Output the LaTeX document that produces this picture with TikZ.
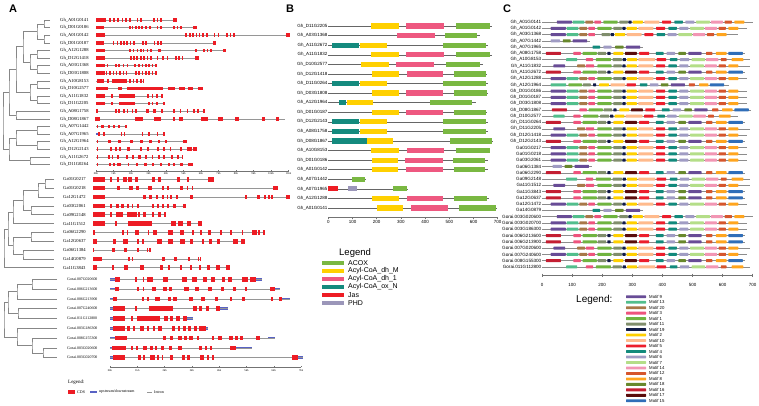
\documentclass[tikz,border=0pt]{standalone}
\usepackage{fontspec}
\setmainfont{Liberation Serif}
\setsansfont{Liberation Sans}
\usepackage{xcolor}
\usepackage{tikz}
\usetikzlibrary{calc}
\definecolor{cdsred}{RGB}{237,28,36}
\definecolor{utrblue}{RGB}{88,98,196}
\definecolor{introngray}{RGB}{150,150,150}
\definecolor{treegray}{RGB}{135,135,135}
\definecolor{acox}{RGB}{122,184,66}
\definecolor{dhM}{RGB}{255,208,0}
\definecolor{dh1}{RGB}{238,88,128}
\definecolor{oxN}{RGB}{20,138,126}
\definecolor{jas}{RGB}{238,28,36}
\definecolor{phd}{RGB}{155,150,185}
\definecolor{m9}{RGB}{104,76,150}
\definecolor{m13}{RGB}{82,190,140}
\definecolor{m20}{RGB}{168,120,72}
\definecolor{m3}{RGB}{238,84,125}
\definecolor{m1}{RGB}{112,180,64}
\definecolor{m11}{RGB}{128,142,108}
\definecolor{m19}{RGB}{16,26,72}
\definecolor{m2}{RGB}{255,208,0}
\definecolor{m10}{RGB}{255,186,140}
\definecolor{m5}{RGB}{236,30,44}
\definecolor{m4}{RGB}{18,138,124}
\definecolor{m6}{RGB}{160,156,196}
\definecolor{m7}{RGB}{180,222,136}
\definecolor{m14}{RGB}{242,150,180}
\definecolor{m12}{RGB}{214,86,44}
\definecolor{m8}{RGB}{255,165,30}
\definecolor{m18}{RGB}{104,136,44}
\definecolor{m16}{RGB}{196,30,50}
\definecolor{m17}{RGB}{90,12,12}
\definecolor{m15}{RGB}{48,110,184}
\tikzset{
  panel/.style={font=\fontsize{11}{11}\selectfont\sffamily\bfseries,inner sep=0},
  branch/.style={draw=treegray,line width=0.5pt},
  intron/.style={draw=introngray,line width=0.45pt},
  cds/.style={fill=cdsred},
  utr/.style={fill=utrblue},
  alab/.style={anchor=west,inner sep=0,font=\labfont},
  kblab/.style={inner sep=0,font=\fontsize{2.8}{3}\selectfont},
  scalebar/.style={draw=black!55,line width=0.7pt},
  bline/.style={draw=black!60,line width=0.45pt},
  cline/.style={draw=black!45,line width=0.45pt},
  blabel/.style={anchor=east,inner sep=0,xshift=-0.8pt,font=\fontsize{4.5}{5}\selectfont\sffamily},
  clabel/.style={anchor=east,inner sep=0,xshift=-0.5pt,font=\fontsize{4.6}{5}\selectfont\sffamily},
  ticklab/.style={inner sep=0,font=\fontsize{4.5}{5}\selectfont\sffamily},
  leglab/.style={anchor=west,inner sep=0,font=\fontsize{7}{8}\selectfont\sffamily},
  motlab/.style={anchor=west,inner sep=0,font=\fontsize{4.3}{5}\selectfont\sffamily}
}
\newcommand{\labfont}{\fontsize{4.6}{5}\selectfont}
\newcommand{\labx}{60}
\newcommand{\exh}{1.8}
\newcommand{\cladejoin}[4]{%
  \path let \p1=(#3),\p2=(#4) in (#2pt,{0.5*(\y1+\y2)}) coordinate (#1);
  \draw[branch] (#3) -| (#1) |- (#4);}
\newcommand{\generow}[5]{%
  \node[alab] at (\labx,#1) {#2};
  \draw[intron] (#3,#1) -- (#4,#1);
  \foreach \xa/\xb in {#5} {\fill[cds] (\xa,#1-\exh) rectangle (\xb,#1+\exh);}}
\newcommand{\utr}[3]{\fill[utr] (#2,#1-1.3) rectangle (#3,#1+1.3);}
\newcommand{\brow}[4]{%
  \pgfmathsetmacro\yy{26+9.58*#1}
  \draw[bline] (0,\yy) -- (#3,\yy);
  \node[blabel] at (0,\yy) {#2};
  \foreach \dc/\s/\e in {#4} {\fill[fill=\dc] (\s,\yy-2.6) rectangle (\e,\yy+2.6);}}
\def\patA{9/29/79,13/82/121,20/124/150,3/154/176,1/184/231,11/237/265,19/267/278,2/281/315,10/320/370,5/379/409,4/420/448,6/456/486,7/492/538,14/541/581,12/587/611,8/619/652}
\def\patB{9/29/79,13/82/121,20/124/150,3/154/176,11/198/226,19/228/239,2/242/276,10/281/331,5/340/370,4/381/409,6/417/447,7/453/499,14/502/542,12/548/572,8/580/613}
\def\patC{9/38/77,20/117/143,3/146/173,1/184/231,11/237/265,19/267/278,2/281/315,10/320/370,5/379/409,4/420/448,6/456/486,7/492/538,14/541/581,12/587/611,8/619/652}
\def\patD{16/13/63,3/104/129,1/135/182,11/185/213,19/217/228,2/237/270,17/276/315,5/323/356,4/378/404,6/414/442,18/453/478,9/486/530,12/545/566,8/578/613,15/619/667}
\def\patE{13/80/117,3/146/170,1/179/229,11/235/265,19/268/279,2/283/316,10/320/376,5/381/412,4/425/450,6/458/489,7/497/542,14/545/586,12/594/613,8/630/669}
\def\patF{13/29/80,1/88/133,11/136/162,19/170/180,2/190/222,10/228/276,5/281/312,4/325/350,6/358/387,18/395/420,9/428/475,12/488/508,8/522/553,15/558/605}
\def\patG{6/29/60,18/69/95,9/102/150}
\def\patH{4/168/193,6/204/231,18/243/271,9/279/326}

\begin{document}
\begin{tikzpicture}[x=1pt,y=-1pt]
  \fill[white] (0,0) rectangle (759,405);
  \useasboundingbox (0,0) rectangle (759,405);
  \node[panel] (pa) at (13,9) {A};
  \node[panel] (pb) at (290,9) {B};
  \node[panel] (pc) at (507,9) {C};

  \foreach \i in {1,...,20} \coordinate (gh\i) at (50,{20+7.6*(\i-1)});
  \foreach \i in {1,...,11} \coordinate (ga\i) at (54,{179.3+8.84*(\i-1)});
  \foreach \i in {1,...,9} \coordinate (go\i) at (57,{279.3+9.8*(\i-1)});
  \cladejoin{t1}{44}{gh1}{gh2}
  \cladejoin{t2}{44}{gh3}{gh4}
  \cladejoin{t3}{37}{t1}{t2}
  \cladejoin{t4}{37}{gh5}{gh6}
  \cladejoin{t5}{37}{gh7}{gh8}
  \cladejoin{t6}{30}{t4}{t5}
  \cladejoin{t7}{23}{t3}{t6}
  \cladejoin{t8}{37}{gh9}{gh10}
  \cladejoin{t9}{37}{gh11}{gh12}
  \cladejoin{t10}{30}{t8}{t9}
  \cladejoin{t11}{16}{t7}{t10}
  \cladejoin{t12}{16}{gh13}{gh14}
  \cladejoin{t13}{9}{t11}{t12}
  \cladejoin{t14}{37}{gh15}{gh16}
  \cladejoin{t15}{37}{gh17}{gh18}
  \cladejoin{t16}{16}{t14}{t15}
  \cladejoin{t17}{30}{gh19}{gh20}
  \cladejoin{t18}{9}{t16}{t17}
  \cladejoin{t19}{3}{t13}{t18}
  \cladejoin{u1}{45}{ga1}{ga2}
  \cladejoin{u2}{38}{u1}{ga3}
  \cladejoin{u3}{31}{ga4}{ga5}
  \cladejoin{u4}{23}{u2}{u3}
  \cladejoin{u5}{13}{u4}{ga6}
  \cladejoin{u6}{31}{ga7}{ga8}
  \cladejoin{u7}{23}{ga9}{ga10}
  \cladejoin{u8}{13}{u6}{u7}
  \cladejoin{u9}{8}{u5}{u8}
  \cladejoin{u10}{4}{u9}{ga11}
  \cladejoin{v1}{32}{go1}{go2}
  \cladejoin{v2}{17}{v1}{go3}
  \cladejoin{v3}{18}{go4}{go5}
  \cladejoin{v4}{8}{v2}{v3}
  \cladejoin{v5}{43}{go8}{go9}
  \cladejoin{v6}{32}{go7}{v5}
  \cladejoin{v7}{17}{go6}{v6}
  \cladejoin{v8}{4}{v4}{v7}

  \generow{20}{Gh\_A01G0141}{96}{177}{96/106,109.3/110.7,112.7/114.7,117.3/119.3,121.7/123.3,125/126.7,129/130.7,136.7/138.3,140/141.7,153.3/155,156.7/158.3,160/161.7,173.3/176.7}
  \generow{27.6}{Gh\_D01G0186}{96}{196.7}{96/104,129.3/130.7,131.7/133.3,135/136.7,138.3/140,140.7/142.7,145/146.7,149.3/150.7,156.7/158.3,160/161.7,173.3/175,176.7/178.3,180/181.7,193.3/196.7}
  \generow{35.2}{Gh\_A01G0142}{96}{290}{96/105,185/186.5,189/190.5,192/193.5,195.5/197,198.5/200,202/203.5,206/207.5,213.5/215,217.5/219,226/227.5,229.5/231,233/234.5,286/290}
  \generow{42.8}{Gh\_D01G0187}{96}{216}{96/104,112.5/114,116.5/118,120/121.5,122.5/124.5,126/127.5,129.5/131,133/135,141.5/143.5,145/146.5,153.5/155,156.5/158.5,160/161.5,212.5/216}
  \generow{50.4}{Gh\_A12G1288}{96}{226}{96/105,129.3/131,132.7/134.3,136.7/138.3,140/141.7,142.7/144.3,146.7/148.3,150/151.7,158.3/160.7,195/196.7,203.3/205,206.7/208.3,210/211.7,222.7/226}
  \generow{58}{Gh\_D12G1418}{96}{199.3}{96/105,130/131.7,133.3/135,136/137.7,140/141.7,143.3/145,146.7/148.3,150/151.7,156.7/158.3,161.7/164,166.7/168.3,175/176.7,178.3/180,181.7/183.3,195/199.3}
  \generow{65.6}{Gh\_A03G1368}{96}{156.7}{96/105,106.7/108.3,115/116.7,118.3/120,122.7/124.3,126.7/128.3,134/135.7,138.3/140,141.7/143.3,145/146.7,148.3/150,151.7/153.3,155/156.7}
  \generow{73.2}{Gh\_D03G1808}{96}{156.7}{96/105,106/107.3,109.3/110.7,112.7/114,116/117.3,119.3/120.7,122.7/124,126/127.3,135/136.7,138.3/140,141.7/143.3,145/146.7,148.3/150,151.7/153.3,155/156.7}
  \generow{80.8}{Gh\_A10G8153}{96}{144.3}{96.7/104,107.3/109.3,111.7/126.7,129.3/131,132.7/134.3,136/137.7,140/141.7,142.7/144.3}
  \generow{88.4}{Gh\_D10G2577}{96}{203.3}{96/108.3,117.7/121.7,126.7/162.7,168.3/175,179.3/185,188.3/193.3,198.3/203.3}
  \generow{96}{Gh\_A11G1832}{96}{163.3}{96/105,110.7/112.7,119.3/135,147.3/149.3,151.7/153.3,156/158.3,161/163.3}
  \generow{103.6}{Gh\_D11G2205}{96}{165}{96/105,110.7/112.7,119.3/135,148.3/150,151.7/153.3,156/158.3,162.7/165}
  \generow{111.2}{Gh\_A08G1758}{96}{205}{96/97.5,115/116.5,118.3/120,123.3/125,126.7/128.3,131.7/133.3,135/137.3,146/149.3,153.3/156,160.7/163.3,173.3/174.7,180/181.3,186.7/188.3,193.3/194.7,197.3/199.3,202.7/205}
  \generow{118.8}{Gh\_D08G1867}{95}{285}{95/100,135/143,154/161,172.7/175,179.3/183.3,201/208.3,218.3/223.3,235/239.3,262/265,276/279}
  \generow{126.4}{Gh\_A07G1442}{96}{127}{96.5/97.2,101/104,108.3/110,113.3/115,118.3/120,125/126.7}
  \generow{134}{Gh\_A07G1965}{96}{165}{97.5/100,103.3/105,120.7/122.3,124/125.3,141.7/143.3,148.3/150,156.7/158.3,163.3/165}
  \utr{134}{96}{97.5}
  \generow{141.6}{Gh\_A12G1964}{96}{187}{96.7/98,108.3/110.7,118.3/120.7,130/132.7,140/142.7,149/151.7,157.7/160,165/166.7,183.3/186.7}
  \generow{149.2}{Gh\_D12G2143}{96}{197.3}{96.7/97.7,110/111.7,115/116.7,119/120.7,126.7/130,140/141.7,146.7/149.3,156.7/159.3,163.3/165,170/171,180/181.7,187.3/191.7,193.3/197.3}
  \generow{156.8}{Gh\_A11G2672}{96}{183.3}{96.7/97.7,108.3/110,111.7/113.3,116.7/119,126/127.7,131.7/134,138.3/141,145/146.7,151.7/153.3,158.3/160,163.3/165,170.7/172.7,176.7/179,181.7/183.3}
  \generow{164.4}{Gh\_D11G0264}{96}{192.7}{96.7/97.7,109.3/111,113.3/115,117.3/120.7,127.7/129.3,136/138.3,144.3/146.7,152.3/154.3,160/161.7,168.3/170,173.3/175,180/183.3,188.3/192.7}
  \draw[scalebar,line width=0.5pt] (96,171) -- (289,171);
  \foreach \kk in {0,...,11} {
    \draw[scalebar,line width=0.4pt] ({96+17.5*\kk},171) -- ({96+17.5*\kk},169.6);
    \node[kblab] at ({96+17.5*\kk},174) {\kk kb};}

  \renewcommand{\labx}{63}
  \renewcommand{\exh}{2.3}
  \generow{179.3}{Ga01G0217}{93}{214.3}{93/105,110/112.3,116.7/119,122.7/126.7,128.3/131.7,135/138.3,151.7/155,158.3/160.7,176.7/180,186.7/189.3,208.3/214.3}
  \generow{188.1}{Ga01G0218}{93}{278}{93/105,117.3/120,129.3/133.3,136/139.3,148.3/151.7,161.7/164,166.7/169,180/182.7,186.7/188.3,191.7/193.3,273/278}
  \generow{197}{Ga12G1472}{93}{290}{93/105,143.3/145.7,149.3/151.7,156/158.3,161.7/164,166.7/168.3,170/171.7,176/178.3,190/192.7,245/247.3,256.7/260,264/265.5,268/269.5,271/272.5,286/290}
  \generow{205.8}{Ga03G2061}{93}{186}{93/105,110/112.3,116/119,120.7/124,126.7/129,131.7/133.3,136.7/139,151.7/154,156.7/159,161.7/164,166.7/169,173.3/176,182.7/186}
  \generow{214.7}{Ga09G2148}{93}{166}{93/105,110/111.7,115.7/123.3,126.7/136.7,138.3/140,143.3/145.7,151.7/154,158.3/160.7,164.3/166}
  \generow{223.5}{Ga11G1512}{93}{202}{93/105,115/117.3,128.3/151.7,170.7/175.7,178.3/183.3,186.7/190.7,198.3/201.7}
  \generow{232.3}{Ga06G2290}{93}{265}{92.7/95,121.7/124,126.7/128.3,135/139.3,147.7/149.3,153.3/156.7,168.3/172.7,180/184,191.7/194,200/201.7,208.3/210.7,220/222.3,230/232.3,241.7/243.3,251.7/256.7,258/260,263/265}
  \generow{241.2}{Ga12G0637}{93}{245}{92.7/96.7,113.3/116,123.3/128.3,136.7/139.3,141.7/144.3,156.7/162.3,168.3/173.3,180/185,190/193.3,201.7/204,209.3/211.7,216.7/220,233.3/238.3,240.7/245}
  \generow{250}{Ga06G1384}{93}{151}{92.7/93.3,111.7/115,124/127.3,136.7/139,146.7/148.3,149.3/150.7}
  \generow{258.9}{Ga14G0879}{93}{201}{92.7/101.7,128.3/130,131.7/133.3,161.7/165,174.3/176.7,188.3/190,197.7/198.3,200/201}
  \generow{267.7}{Ga11G3843}{93}{230}{92.7/96.7,111.7/114,124/128.3,140/144,160/163.3,168.3/170,180/182.3,190/192.3,199.3/200.7,207.3/210,216/220,226/230}

  \renewcommand{\labx}{67}
  \renewcommand{\labfont}{\fontsize{3.9}{4.5}\selectfont}
  \utr{279.3}{110}{115}\utr{279.3}{256}{262}
  \generow{279.3}{Gorai.007G020600}{110}{262}{115/120,135/137.3,142.7/144.3,147.3/152.7,162.7/168.3,181.7/186.7,191.7/196.7,203.3/206.7,211/215,221.7/225,228.3/231.7,241.7/248.3,250/256}
  \utr{289.1}{110}{115}\utr{289.1}{275}{280}
  \generow{289.1}{Gorai.006G213600}{110}{280}{115/119.3,137.3/139.3,142.7/144,151.7/156,163.3/166.7,169/171.7,184.3/189,195/199,208.3/211.7,221/224,233.3/236,245/246.7,270/275}
  \utr{298.9}{110}{113.3}\utr{298.9}{282}{290}
  \generow{298.9}{Gorai.006G213900}{110}{290}{113.3/116.7,141.7/144,146.7/149,155/160,168.3/170.7,172.7/176.7,189.3/193.3,201/205,215/218.3,230/232.3,241.7/245,271/273,279/282}
  \utr{308.7}{110}{113.3}\utr{308.7}{220}{227.7}
  \generow{308.7}{Gorai.007G240600}{110}{228}{113.3/125,135/137.3,149.3/172.7,193.3/196.7,199.3/201.7,206/209.3,216/220}
  \utr{318.5}{110}{113.3}\utr{318.5}{186.7}{193.3}
  \generow{318.5}{Gorai.011G112800}{110}{193}{113.3/125,130.7/133.3,136.7/160,164/168.3,170/173.3,176/180,183.3/186.7}
  \utr{328.3}{110}{113.3}\utr{328.3}{206}{208.3}
  \generow{328.3}{Gorai.003G186300}{110}{208}{113.3/125,127.3/130,132.7/135,140/144,146.7/149.3,152.7/155,158.3/161.7,171.7/175,177.7/180,183.3/186,188.3/190.7,194/196.7,199.3/206}
  \utr{338.1}{110}{115}\utr{338.1}{268}{275}
  \generow{338.1}{Gorai.008G155300}{110}{275}{115/127.3,163.3/166,170/172.7,177.7/181.7,184.3/186.7,189.3/192.7,196.7/199.3,211.7/214,218.3/221.7,229.3/232.7,235/237.7,240/242.7,256/260}
  \utr{347.9}{110}{111.7}\utr{347.9}{236}{251.7}
  \generow{347.9}{Gorai.003G020600}{110}{252}{111.7/126,131/133.3,136/138.3,143.3/146.7,150/152.7,155/157.3,160.7/164,169.3/171.7,178.3/181.7,199/201.7,205/207.3,210/212.3,230/236}
  \utr{357.7}{110}{113.3}\utr{357.7}{298.3}{302.7}
  \generow{357.7}{Gorai.003G020700}{110}{302.7}{113.3/125,137.7/140.7,142.7/145,150/155,156.7/159.3,161.7/163.3,170/172.7,181.7/185,187.3/190,200/204,206.7/209.3,211.7/214,291.7/298.3}
  \draw[scalebar,line width=0.5pt] (110,367) -- (301,367);
  \foreach \kk in {0,...,7} {
    \draw[scalebar,line width=0.4pt] ({110+27.3*\kk},367) -- ({110+27.3*\kk},365.6);
    \node[kblab] at ({110+27.3*\kk},370.5) {\kk kb};}
  \node[anchor=west,inner sep=0,font=\fontsize{5}{6}\selectfont] (aleg) at (68,382) {Legend:};
  \fill[cds] (68,389.8) rectangle (75,394.2);
  \node[anchor=west,inner sep=0,font=\fontsize{4}{5}\selectfont] (lcds) at (77,392) {CDS};
  \fill[utr] (90,390.8) rectangle (97,393.2);
  \node[anchor=west,inner sep=0,font=\fontsize{4}{5}\selectfont] (lutr) at (99,392) {upstream/downstream};
  \draw[intron] (147,392) -- (152,392);
  \node[anchor=west,inner sep=0,font=\fontsize{4}{5}\selectfont] (lint) at (154,392) {Intron};

  \begin{scope}[shift={(328.3,0)},x=0.242pt]
    \brow{0}{Gh\_D11G2205}{675}{dhM/176/292,dh1/321/479,acox/526/668}
    \brow{1}{Gh\_A03G1368}{627}{dh1/285/441,acox/482/613}
    \brow{2}{Gh\_A11G2672}{661}{oxN/17/128,dhM/131/244,acox/475/653}
    \brow{3}{Gh\_A11G1832}{675}{dhM/176/292,dh1/321/479,acox/526/668}
    \brow{4}{Gh\_D10G2577}{640}{dhM/135/251,dh1/280/438,acox/485/627}
    \brow{5}{Gh\_D12G1418}{655}{dhM/182/292,dh1/324/475,acox/521/652}
    \brow{6}{Gh\_D11G0264}{661}{oxN/17/128,dhM/131/244,acox/475/653}
    \brow{7}{Gh\_D03G1808}{658}{dhM/182/292,dh1/321/475,acox/521/655}
    \brow{8}{Gh\_A12G1964}{610}{oxN/45/73,dhM/76/186,acox/420/592}
    \brow{9}{Gh\_D01G0187}{655}{dhM/182/292,dh1/321/475,acox/521/652}
    \brow{10}{Gh\_D12G2143}{661}{oxN/17/128,dhM/131/244,acox/475/653}
    \brow{11}{Gh\_A08G1758}{661}{oxN/17/128,dhM/131/244,acox/475/653}
    \brow{12}{Gh\_D08G1867}{680}{oxN/17/159,dhM/159/269,acox/503/675}
    \brow{13}{Gh\_A10G8153}{670}{dhM/176/292,dh1/324/479,acox/526/668}
    \brow{14}{Gh\_D01G0186}{658}{dhM/179/287,dh1/317/473,acox/517/648}
    \brow{15}{Gh\_A01G0142}{658}{dhM/182/287,dh1/321/475,acox/521/648}
    \brow{16}{Gh\_A07G1442}{155}{acox/97/152}
    \brow{17}{Gh\_A07G1965}{328}{jas/0/39,phd/80/120,acox/269/324}
    \brow{18}{Gh\_A12G1288}{665}{dhM/182/292,dh1/324/475,acox/521/655}
    \brow{19}{Gh\_A01G0141}{695}{dhM/202/310,dh1/342/496,acox/540/693}
    \draw[scalebar] (0,217) -- (700,217);
    \foreach \t in {0,100,...,700} {
      \draw[scalebar,line width=0.5pt] (\t,217) -- (\t,218.8);
      \node[ticklab] at (\t,222) {\t};}
  \end{scope}
  \node[anchor=west,inner sep=0,font=\fontsize{9.5}{10}\selectfont\sffamily] (bleg) at (339,253) {Legend};
  \foreach \dc/\tx [count=\k from 0] in {acox/ACOX,dhM/Acyl-CoA\_dh\_M,dh1/Acyl-CoA\_dh\_1,oxN/Acyl-CoA\_ox\_N,jas/Jas,phd/PHD} {
    \fill[fill=\dc] (322,{263+8*\k-2.1}) rectangle (344,{263+8*\k+2.1});
    \node[leglab] at (348,{263+8*\k}) {\tx};}

  \begin{scope}[shift={(542,0)},x=0.301pt]
    \foreach \nm/\pk/\sh/\lend [count=\i from 0] in {Gh\_A01G0141/A/20/700,Gh\_A01G0142/A/0/680,Gh\_A03G1368/B/0/650,Gh\_A07G1442/G/0/160,Gh\_A07G1965/H/0/335,Gh\_A08G1758/D/0/675,Gh\_A10G8153/E/0/690,Gh\_A11G1832/C/0/690,Gh\_A11G2672/D/0/675,Gh\_A12G1288/A/0/680,Gh\_A12G1964/F/0/620,Gh\_D01G0186/A/0/680,Gh\_D01G0187/A/0/680,Gh\_D03G1808/A/0/680,Gh\_D08G1867/D/20/695,Gh\_D10G2577/E/-42/650,Gh\_D11G0264/D/0/675,Gh\_D11G2205/C/0/690,Gh\_D12G1418/A/0/680,Gh\_D12G2143/D/0/675,Ga01G0217/A/0/680,Ga01G0218/A/0/680,Ga03G2061/A/0/680,Ga06G1384/G/6/166,Ga06G2290/D/0/675,Ga09G2148/E/0/690,Ga11G1512/C/0/690,Ga11G3843/D/0/675,Ga12G0637/D/0/675,Ga12G1472/A/0/680,Ga14G0879/H/0/335,Gorai.003G020600/A/20/700,Gorai.003G020700/A/0/680,Gorai.003G186300/A/0/680,Gorai.006G213600/D/0/675,Gorai.006G213900/D/0/675,Gorai.007G020600/C/0/690,Gorai.007G240600/A/0/680,Gorai.008G155300/D/0/675,Gorai.011G112800/E/0/690} {
      \pgfmathsetmacro\yy{22+6.28*\i}
      \expandafter\let\expandafter\curpat\csname pat\pk\endcsname
      \draw[cline] (0,\yy) -- (\lend,\yy);
      \node[clabel] at (0,\yy) {\nm};
      \foreach \m/\s/\e in \curpat {
        \fill[fill=m\m,rounded corners=0.5pt] (\s+\sh,\yy-1.5) rectangle (\e+\sh,\yy+1.5);}
    }
    \draw[scalebar] (0,275) -- (700,275);
    \foreach \t in {0,100,...,700} {
      \draw[scalebar,line width=0.5pt] (\t,273.5) -- (\t,277);
      \node[ticklab] at (\t,284.5) {\t};}
  \end{scope}
  \node[anchor=west,inner sep=0,font=\fontsize{10}{11}\selectfont\sffamily] (cleg) at (576,300) {Legend:};
  \foreach \m [count=\k from 0] in {9,13,20,3,1,11,19,2,10,5,4,6,7,14,12,8,18,16,17,15} {
    \fill[fill=m\m,rounded corners=0.5pt] (626,{296.7+5.48*\k-1.4}) rectangle (646,{296.7+5.48*\k+1.4});
    \node[motlab] at (649,{296.7+5.48*\k}) {Motif \m};}
\end{tikzpicture}
\end{document}
